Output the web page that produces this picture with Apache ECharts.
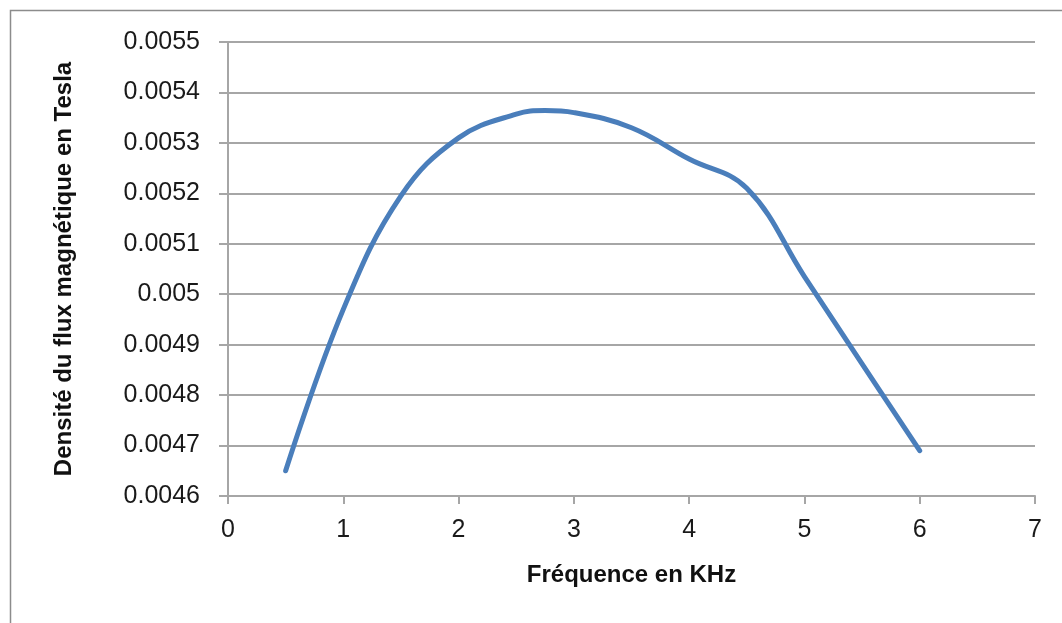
<!DOCTYPE html>
<html>
<head>
<meta charset="utf-8">
<script src="https://cdn.jsdelivr.net/npm/echarts@6/dist/echarts.min.js"></script>
<style>
html,body{margin:0;padding:0;background:#fff;}
#chart{width:1062px;height:623px;}
</style>
</head>
<body>
<div id="chart"></div>
<script>
// Data
var freqKHz = [0.5, 1, 1.5, 2, 2.5, 2.75, 3, 3.5, 4, 4.5, 5, 5.5, 6];
var fluxTesla = [0.00465, 0.00497, 0.005195, 0.00531, 0.005357, 0.005364, 0.00536, 0.00533, 0.005268, 0.00521, 0.005035, 0.004862, 0.00469];
var xTitle = 'Fréquence en KHz';
var yTitle = 'Densité du flux magnétique en Tesla';

var points = freqKHz.map(function (x, i) { return [x, fluxTesla[i]]; });

var chart = echarts.init(document.getElementById('chart'), null, {renderer: 'canvas'});
var font = '"Liberation Sans", Arial, sans-serif';
var gridColor = '#a6a6a6';
chart.setOption({
  animation: false,
  backgroundColor: '#ffffff',
  graphic: [{
    type: 'polyline',
    shape: {points: [[10.5, 623], [10.5, 10.5], [1062, 10.5]]},
    style: {stroke: '#8c8c8c', lineWidth: 1.5, fill: null}
  }],
  grid: {left: 228, right: 27, top: 42, bottom: 127},
  xAxis: {
    type: 'value',
    min: 0, max: 7, interval: 1,
    name: xTitle,
    nameLocation: 'middle',
    nameGap: 67,
    nameTextStyle: {fontFamily: font, fontSize: 24, fontWeight: 'bold', color: '#111'},
    axisLine: {show: true, onZero: false, lineStyle: {color: gridColor, width: 2}},
    axisTick: {show: true, length: 8, lineStyle: {color: gridColor, width: 2}},
    axisLabel: {fontFamily: font, fontSize: 25, color: '#1a1a1a', margin: 22},
    splitLine: {show: false}
  },
  yAxis: {
    type: 'value',
    min: 0.0046, max: 0.0055, interval: 0.0001,
    name: yTitle,
    nameLocation: 'middle',
    nameGap: 152,
    nameTextStyle: {fontFamily: font, fontSize: 24, fontWeight: 'bold', color: '#111'},
    axisLine: {show: true, lineStyle: {color: gridColor, width: 2}},
    axisTick: {show: true, length: 9, lineStyle: {color: gridColor, width: 2}},
    axisLabel: {
      fontFamily: font, fontSize: 25, color: '#1a1a1a', margin: 28,
      formatter: function (v) { return String(+v.toFixed(4)); }
    },
    splitLine: {show: true, lineStyle: {color: gridColor, width: 2}}
  },
  series: [{
    type: 'line',
    data: points,
    smooth: 0.4,
    showSymbol: false,
    symbol: 'none',
    lineStyle: {color: '#4a7ebb', width: 5, cap: 'round'}
  }]
});
</script>
</body>
</html>
